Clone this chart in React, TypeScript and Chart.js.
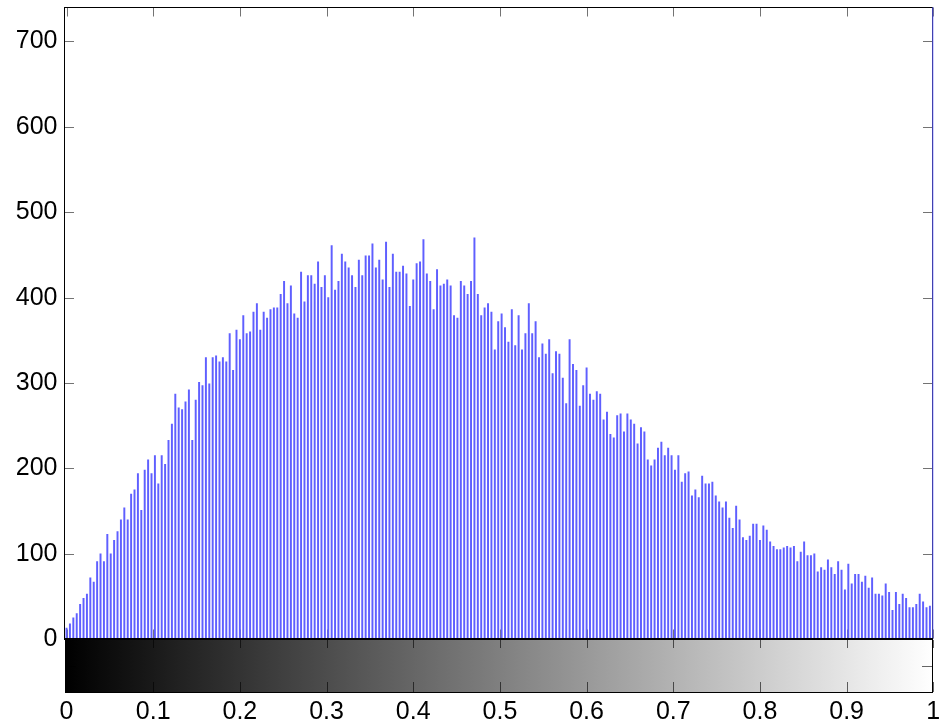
import React, { useEffect, useRef } from "react";
import { Chart, registerables } from "chart.js";

Chart.register(...registerables);

// 256-bin grey-level histogram counts (bin i is centred at i/255)
const counts: number[] = [
  13, 18, 25, 30, 41, 48, 53, 72, 67, 91, 100, 91, 123, 100, 116, 126, 140, 154, 140, 170, 175, 194, 151, 198, 210, 194, 215, 182, 215, 205, 233,
  252, 287, 271, 269, 278, 292, 233, 280, 301, 297, 330, 299, 330, 332, 325, 330, 325, 358, 315, 362, 351, 379, 358, 360, 383, 393, 362, 383, 376, 386, 388, 388,
  404, 419, 393, 414, 381, 376, 430, 395, 426, 426, 416, 442, 412, 426, 400, 461, 409, 419, 451, 442, 435, 426, 412, 444, 426, 449, 449, 463, 435, 444, 421, 465, 412,
  451, 430, 430, 437, 428, 390, 421, 440, 442, 468, 428, 419, 386, 433, 414, 416, 421, 414, 379, 376, 419, 414, 404, 419, 470, 404, 379, 388, 393, 383, 339, 372, 381,
  365, 348, 386, 344, 379, 339, 358, 393, 358, 372, 330, 346, 334, 351, 311, 337, 334, 306, 276, 351, 322, 315, 273, 297, 318, 287, 280, 290, 287, 257, 266, 240,
  236, 262, 264, 243, 264, 257, 252, 229, 248, 243, 210, 203, 210, 224, 231, 215, 224, 215, 198, 215, 184, 194, 196, 168, 175, 166, 191, 182, 182, 184, 168, 161,
  154, 161, 142, 130, 156, 140, 119, 116, 121, 135, 135, 116, 133, 128, 114, 109, 105, 105, 107, 109, 107, 109, 91, 102, 114, 98, 98, 100, 79, 84, 81, 93, 84,
  76, 91, 81, 58, 88, 65, 76, 76, 67, 74, 60, 72, 53, 53, 51, 65, 55, 34, 55, 41, 53, 48, 37, 37, 41, 53, 44, 37, 39,
  1200,
];

const xTicks: number[] = [0, 0.1, 0.2, 0.3, 0.4, 0.5, 0.6, 0.7, 0.8, 0.9, 1];
const xTickLabels: string[] = ["0", "0.1", "0.2", "0.3", "0.4", "0.5", "0.6", "0.7", "0.8", "0.9", "1"];
const yTicks: number[] = [0, 100, 200, 300, 400, 500, 600, 700];

const X_MIN = -0.0035;
const X_MAX = 1;
const Y_MAX = 740;

const FONT = { family: "'Liberation Sans', Arial, Helvetica, sans-serif", size: 25 };

const framePlugin = {
  id: "matlabFrame",
  beforeDatasetsDraw(chart: any) {
    const { ctx, chartArea } = chart;
    const xs = chart.scales.x;
    const ys = chart.scales.y;
    const L = Math.round(chartArea.left) + 0.5;
    const R = Math.round(chartArea.right) - 0.5;
    const T = Math.round(chartArea.top) + 0.5;
    const B = Math.round(chartArea.bottom) - 0.5;
    ctx.save();
    // tick marks (inward)
    ctx.strokeStyle = "rgba(0,0,0,0.55)";
    ctx.lineWidth = 1;
    ctx.beginPath();
    yTicks.forEach((v) => {
      const py = Math.round(ys.getPixelForValue(v)) + 0.5;
      ctx.moveTo(L, py);
      ctx.lineTo(L + 9.5, py);
      ctx.moveTo(R, py);
      ctx.lineTo(R - 9.5, py);
    });
    xTicks.forEach((v) => {
      const px = Math.round(xs.getPixelForValue(v)) + 0.5;
      ctx.moveTo(px, B);
      ctx.lineTo(px, B - 9);
      ctx.moveTo(px, T);
      ctx.lineTo(px, T + 9);
    });
    ctx.stroke();
    // box
    ctx.strokeStyle = "#000";
    ctx.lineWidth = 1;
    ctx.strokeRect(L, T, R - L, B - T);
    ctx.restore();
  },
  afterDraw(chart: any) {
    const { ctx, chartArea } = chart;
    const xs = chart.scales.x;
    const L = Math.round(chartArea.left) + 1;
    const R = Math.round(chartArea.right);
    const T = Math.round(chartArea.bottom);
    const B = T + 54;
    ctx.save();
    const g = ctx.createLinearGradient(xs.getPixelForValue(0), 0, xs.getPixelForValue(1), 0);
    g.addColorStop(0, "#000");
    g.addColorStop(1, "#fff");
    ctx.fillStyle = g;
    ctx.fillRect(L, T, R - L, B - T);
    ctx.strokeStyle = "#000";
    ctx.lineWidth = 2;
    ctx.beginPath();
    ctx.moveTo(L - 1, T);
    ctx.lineTo(R, T);
    ctx.stroke();
    ctx.lineWidth = 1;
    ctx.strokeRect(L + 0.5, T + 0.5, R - L - 1, B - T - 1);
    ctx.strokeStyle = "rgba(0,0,0,0.6)";
    ctx.beginPath();
    xTicks.forEach((v) => {
      const px = Math.round(xs.getPixelForValue(v)) + 0.5;
      ctx.moveTo(px, T + 1);
      ctx.lineTo(px, T + 9);
      ctx.moveTo(px, B - 1);
      ctx.lineTo(px, B - 11);
    });
    const my = Math.round((T + B) / 2) + 0.5;
    ctx.moveTo(R - 1, my);
    ctx.lineTo(R - 11, my);
    ctx.moveTo(L + 1, my);
    ctx.lineTo(L + 11, my);
    ctx.stroke();
    ctx.restore();
  },
};

export default function App() {
  const canvasRef = useRef<HTMLCanvasElement | null>(null);

  useEffect(() => {
    document.body.style.margin = "0";
    document.body.style.background = "#fff";
    const canvas = canvasRef.current;
    if (!canvas) return;
    const data = counts.map((c, i) => ({ x: i / (counts.length - 1), y: c }));
    const chart = new Chart(canvas, {
      type: "bar",
      data: {
        datasets: [
          {
            data: data as any,
            backgroundColor: "rgb(95,95,255)",
            borderWidth: 0,
            barThickness: 1.3,
            grouped: false,
          } as any,
        ],
      },
      options: {
        animation: false,
        responsive: true,
        maintainAspectRatio: false,
        devicePixelRatio: 1,
        layout: { padding: { left: 0, right: 12.7, top: 7.3, bottom: 0 } },
        plugins: {
          legend: { display: false },
          tooltip: { enabled: false },
          title: { display: false },
        },
        scales: {
          x: {
            type: "linear",
            position: "bottom",
            min: X_MIN,
            max: X_MAX,
            offset: false,
            grid: { display: false, drawTicks: false, tickLength: 0 },
            border: { display: false },
            afterBuildTicks: (scale: any) => {
              scale.ticks = xTicks.map((v) => ({ value: v }));
            },
            afterFit: (scale: any) => {
              scale.height = 85.7;
              scale.paddingLeft = 0;
              scale.paddingRight = 0;
            },
            ticks: {
              autoSkip: false,
              maxRotation: 0,
              minRotation: 0,
              padding: 58,
              color: "#000",
              font: FONT,
              callback: (value: any) => {
                const idx = xTicks.findIndex((t) => Math.abs(t - Number(value)) < 1e-9);
                return idx >= 0 ? xTickLabels[idx] : "";
              },
            },
          },
          y: {
            type: "linear",
            position: "left",
            min: 0,
            max: Y_MAX,
            grid: { display: false, drawTicks: false, tickLength: 0 },
            border: { display: false },
            afterBuildTicks: (scale: any) => {
              scale.ticks = yTicks.map((v) => ({ value: v }));
            },
            afterFit: (scale: any) => {
              scale.width = 63.5;
              scale.paddingTop = 0;
              scale.paddingBottom = 0;
            },
            ticks: {
              autoSkip: false,
              padding: 6,
              color: "#000",
              font: FONT,
              callback: (value: any) => String(value),
            },
          },
        },
      },
      plugins: [framePlugin],
    });
    return () => chart.destroy();
  }, []);

  return (
    <div style={{ position: "relative", width: "946px", height: "725px", background: "#fff" }}>
      <canvas ref={canvasRef} />
    </div>
  );
}
